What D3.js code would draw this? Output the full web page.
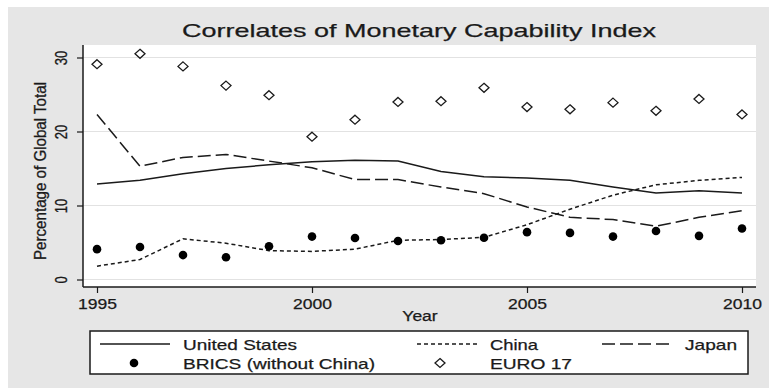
<!DOCTYPE html>
<html>
<head>
<meta charset="utf-8">
<script src="https://cdn.jsdelivr.net/npm/d3@7"></script>
<style>
  body { margin: 0; background: #fff; }
  svg { display: block; font-family: "Liberation Sans", Arial, sans-serif; }
  text { stroke: #1a1a1a; stroke-width: 0.25px; }
</style>
</head>
<body>
<svg id="chart" width="769" height="388"></svg>
<script>
// values
var years = [1995, 1996, 1997, 1998, 1999, 2000, 2001, 2002, 2003, 2004, 2005, 2006, 2007, 2008, 2009, 2010];
var unitedStates = [12.9, 13.4, 14.3, 15.0, 15.5, 15.9, 16.1, 16.0, 14.6, 13.9, 13.7, 13.4, 12.5, 11.7, 12.0, 11.7];
var china = [1.8, 2.7, 5.5, 4.9, 3.9, 3.8, 4.1, 5.3, 5.4, 5.7, 7.4, 9.5, 11.4, 12.8, 13.4, 13.8];
var japan = [22.3, 15.3, 16.5, 16.9, 16.0, 15.1, 13.5, 13.5, 12.5, 11.6, 9.8, 8.4, 8.1, 7.2, 8.4, 9.3];
var brics = [4.1, 4.4, 3.3, 3.0, 4.5, 5.8, 5.6, 5.2, 5.3, 5.65, 6.4, 6.3, 5.8, 6.55, 5.9, 6.9];
var euro17 = [29.1, 30.5, 28.8, 26.2, 24.9, 19.3, 21.6, 24.0, 24.1, 25.9, 23.3, 23.0, 23.9, 22.8, 24.4, 22.3];
var xTicks = [1995, 2000, 2005, 2010];
var yTicks = [0, 10, 20, 30];

var svg = d3.select("#chart");
var ink = "#1a1a1a";
var stretch = 1.25; // l'image d'origine est étirée en largeur

function widen(sel) {
  sel.each(function() {
    var w = this.getComputedTextLength();
    d3.select(this).attr("textLength", w * stretch).attr("lengthAdjust", "spacingAndGlyphs");
  });
}

// fond gris
svg.append("rect").attr("x", 8).attr("y", 7).attr("width", 761).attr("height", 381).attr("fill", "#e6e6e6");

var plot = { left: 83, top: 45, right: 756, bottom: 287 };
svg.append("rect")
  .attr("x", plot.left).attr("y", plot.top)
  .attr("width", plot.right - plot.left).attr("height", plot.bottom - plot.top)
  .attr("fill", "#fff");

var x = d3.scaleLinear().domain([1995, 2010]).range([97, 742]);
var y = d3.scaleLinear().domain([0, 30]).range([279.5, 57.5]);

// grille
svg.selectAll(".grid").data(yTicks).enter().append("line")
  .attr("x1", plot.left).attr("x2", plot.right)
  .attr("y1", d => y(d)).attr("y2", d => y(d))
  .attr("stroke", "#e2e2e2").attr("stroke-width", 1.2);

// axes
var yAxis = svg.append("g").attr("transform", "translate(" + plot.left + ",0)")
  .call(d3.axisLeft(y).tickValues(yTicks).tickSize(6));
yAxis.select(".domain").attr("d", "M0," + plot.top + "V" + plot.bottom).attr("stroke", ink).attr("stroke-width", 1.5);
yAxis.selectAll(".tick line").attr("stroke", ink).attr("stroke-width", 1.2);
yAxis.selectAll(".tick text")
  .attr("font-size", 13).attr("fill", ink)
  .attr("text-anchor", "middle")
  .attr("x", 0).attr("y", 0).attr("dy", null)
  .attr("transform", "translate(-16,0) rotate(-90) scale(1,1.25)");

var xAxis = svg.append("g").attr("transform", "translate(0," + plot.bottom + ")")
  .call(d3.axisBottom(x).tickValues(xTicks).tickFormat(d3.format("d")).tickSize(6));
xAxis.select(".domain").attr("d", "M" + plot.left + ",0H" + plot.right).attr("stroke", ink).attr("stroke-width", 1.5);
xAxis.selectAll(".tick line").attr("stroke", ink).attr("stroke-width", 1.2);
xAxis.selectAll(".tick text").attr("font-size", 14).attr("fill", ink)
  .attr("y", 22).attr("dy", null).call(widen);

// titres
svg.append("text").attr("x", 419).attr("y", 37).attr("text-anchor", "middle")
  .attr("font-size", 19).attr("fill", ink)
  .attr("textLength", 474).attr("lengthAdjust", "spacingAndGlyphs")
  .text("Correlates of Monetary Capability Index");
svg.append("text").attr("x", 420).attr("y", 321).attr("text-anchor", "middle")
  .attr("font-size", 14).attr("fill", ink).text("Year").call(widen);
svg.append("text").attr("transform", "translate(46,171) rotate(-90) scale(1,1.2)").attr("text-anchor", "middle")
  .attr("font-size", 13).attr("fill", ink).attr("textLength", 178).attr("lengthAdjust", "spacingAndGlyphs")
  .text("Percentage of Global Total");

// séries
var line = d3.line().x((d, i) => x(years[i])).y(d => y(d));
var lines = [
  { name: "United States", values: unitedStates, dash: null },
  { name: "China", values: china, dash: "4,3" },
  { name: "Japan", values: japan, dash: "13,5" }
];
lines.forEach(function(s) {
  svg.append("path").datum(s.values)
    .attr("d", line).attr("fill", "none")
    .attr("stroke", ink).attr("stroke-width", 1.5)
    .attr("stroke-dasharray", s.dash);
});

var diamond = "M0,-4.5L5,0L0,4.5L-5,0Z";
svg.selectAll(".brics").data(brics).enter().append("circle")
  .attr("cx", (d, i) => x(years[i])).attr("cy", d => y(d)).attr("r", 4.3).attr("fill", "#000");
svg.selectAll(".euro").data(euro17).enter().append("path")
  .attr("d", diamond)
  .attr("transform", (d, i) => "translate(" + x(years[i]) + "," + y(d) + ")")
  .attr("fill", "#fff").attr("stroke", ink).attr("stroke-width", 1.3);

// légende
var leg = svg.append("g");
leg.append("rect").attr("x", 90).attr("y", 331).attr("width", 658).attr("height", 43)
  .attr("fill", "#fff").attr("stroke", ink).attr("stroke-width", 1.5);
var row1 = 344, row2 = 363;
var legItems = [
  { name: "United States", kind: "line", dash: null, x0: 100, x1: 170, tx: 183, ty: row1, w: 114 },
  { name: "China", kind: "line", dash: "4,3", x0: 417, x1: 477, tx: 490, ty: row1, w: 48 },
  { name: "Japan", kind: "line", dash: "13,5", x0: 602, x1: 673, tx: 685, ty: row1, w: 52 },
  { name: "BRICS (without China)", kind: "dot", cx: 134, tx: 183, ty: row2, w: 192 },
  { name: "EURO 17", kind: "diamond", cx: 440, tx: 490, ty: row2, w: 82 }
];
legItems.forEach(function(it) {
  if (it.kind === "line") {
    leg.append("line").attr("x1", it.x0).attr("x2", it.x1).attr("y1", it.ty).attr("y2", it.ty)
      .attr("stroke", ink).attr("stroke-width", 1.5).attr("stroke-dasharray", it.dash);
  } else if (it.kind === "dot") {
    leg.append("circle").attr("cx", it.cx).attr("cy", it.ty).attr("r", 4.3).attr("fill", "#000");
  } else {
    leg.append("path").attr("d", diamond).attr("transform", "translate(" + it.cx + "," + it.ty + ")")
      .attr("fill", "#fff").attr("stroke", ink).attr("stroke-width", 1.3);
  }
  leg.append("text").attr("x", it.tx).attr("y", it.ty + 5.5)
    .attr("font-size", 15).attr("fill", ink)
    .attr("textLength", it.w).attr("lengthAdjust", "spacingAndGlyphs")
    .text(it.name);
});
</script>
</body>
</html>
